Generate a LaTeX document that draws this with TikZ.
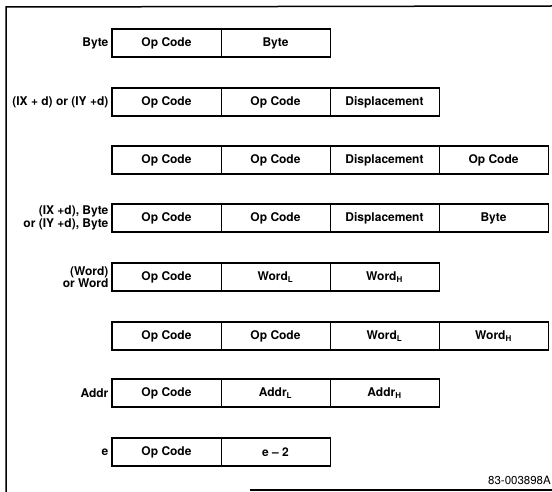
\documentclass[tikz,border=0pt]{standalone}
\usepackage{fontspec}
\setmainfont{TeX Gyre Heros}
\begin{document}
\begin{tikzpicture}[x=1pt,y=-1pt,
  cell/.style={draw, line width=0.8pt, minimum width=109pt, minimum height=27pt, inner sep=0pt, font=\bfseries\fontsize{12}{12}\selectfont},
  outline/.style={line width=1.6pt},
  lbl/.style={anchor=east, align=right, inner sep=1pt, xshift=-2pt, font=\bfseries\fontsize{12}{10.5}\selectfont}]
\useasboundingbox (0,0) rectangle (552,492);
% frame
\draw[line width=1.5pt] (552,6) -- (6,7) -- (6,492);
\draw[line width=1.5pt] (250,490) -- (552,490);
% row 1
\node[cell] (r1a) at (166.5,43) {Op Code};
\node[cell] (r1b) at (275.5,43) {Byte};
\draw[outline] (r1a.north west) rectangle (r1b.south east);
\node[lbl] (l1) at (r1a.west) {Byte};
% row 2
\node[cell] (r2a) at (166.5,102) {Op Code};
\node[cell] (r2b) at (275.5,102) {Op Code};
\node[cell] (r2c) at (384.5,102) {Displacement};
\draw[outline] (r2a.north west) rectangle (r2c.south east);
\node[lbl] (l2) at (r2a.west) {(IX + d) or (IY +d)};
% row 3
\node[cell] (r3a) at (166.5,160) {Op Code};
\node[cell] (r3b) at (275.5,160) {Op Code};
\node[cell] (r3c) at (384.5,160) {Displacement};
\node[cell] (r3d) at (493.5,160) {Op Code};
\draw[outline] (r3a.north west) rectangle (r3d.south east);
% row 4
\node[cell] (r4a) at (166.5,218) {Op Code};
\node[cell] (r4b) at (275.5,218) {Op Code};
\node[cell] (r4c) at (384.5,218) {Displacement};
\node[cell] (r4d) at (493.5,218) {Byte};
\draw[outline] (r4a.north west) rectangle (r4d.south east);
\node[lbl] (l4) at (r4a.west) {(IX +d), Byte\\or (IY +d), Byte};
% row 5
\node[cell] (r5a) at (166.5,277) {Op Code};
\node[cell] (r5b) at (275.5,277) {Word\textsubscript{L}};
\node[cell] (r5c) at (384.5,277) {Word\textsubscript{H}};
\draw[outline] (r5a.north west) rectangle (r5c.south east);
\node[lbl] (l5) at (r5a.west) {(Word)\\or Word};
% row 6
\node[cell] (r6a) at (166.5,336) {Op Code};
\node[cell] (r6b) at (275.5,336) {Op Code};
\node[cell] (r6c) at (384.5,336) {Word\textsubscript{L}};
\node[cell] (r6d) at (493.5,336) {Word\textsubscript{H}};
\draw[outline] (r6a.north west) rectangle (r6d.south east);
% row 7
\node[cell] (r7a) at (166.5,393) {Op Code};
\node[cell] (r7b) at (275.5,393) {Addr\textsubscript{L}};
\node[cell] (r7c) at (384.5,393) {Addr\textsubscript{H}};
\draw[outline] (r7a.north west) rectangle (r7c.south east);
\node[lbl] (l7) at (r7a.west) {Addr};
% row 8
\node[cell] (r8a) at (166.5,452) {Op Code};
\node[cell] (r8b) at (275.5,452) {e -- 2};
\draw[outline] (r8a.north west) rectangle (r8b.south east);
\node[lbl] (l8) at (r8a.west) {e};
% figure number
\node[anchor=east, inner sep=0pt, font=\fontsize{11.5}{12}\selectfont] (fig) at (551,480) {83-003898A};
\end{tikzpicture}
\end{document}
